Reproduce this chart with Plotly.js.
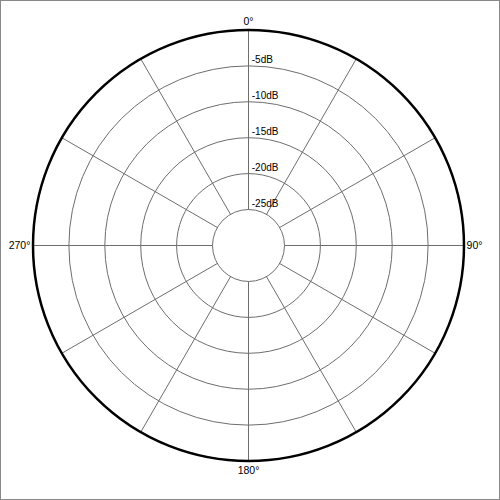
<!DOCTYPE html>
<html>
<head>
<meta charset="utf-8">
<script src="https://cdn.plot.ly/plotly-3.0.1.min.js"></script>
<style>
  html, body { margin: 0; padding: 0; background: #fff; }
  #wrap { width: 500px; height: 500px; box-sizing: border-box; border: 1px solid #888; overflow: hidden; }
  #chart { width: 498px; height: 498px; }
</style>
</head>
<body>
<div id="wrap"><div id="chart"></div></div>
<script>
// Angular grid (degrees) and labels
const angleTicks = [0, 30, 60, 90, 120, 150, 180, 210, 240, 270, 300, 330];
const angleLabels = ['0°', '', '', '90°', '', '', '180°', '', '', '270°', '', ''];
// Radial rings (dB)
const radialTicks = [-25, -20, -15, -10, -5];
const radialLabels = ['-25dB', '-20dB', '-15dB', '-10dB', '-5dB'];
const radialRange = [-25, 0];
// No data series in the reference (empty polar grid)
const seriesR = [];
const seriesTheta = [];

const data = [
  { type: 'scatterpolar', subplot: 'polar', r: seriesR, theta: seriesTheta, mode: 'lines', showlegend: false, hoverinfo: 'skip' },
  { type: 'scatterpolar', subplot: 'polar2', r: seriesR, theta: seriesTheta, mode: 'lines', showlegend: false, hoverinfo: 'skip' }
];

const gridCol = '#6e6e6e';

const layout = {
  width: 498,
  height: 498,
  margin: { l: 32, r: 35, t: 29, b: 38 },
  paper_bgcolor: '#ffffff',
  showlegend: false,
  font: { family: 'Liberation Sans, Arial, sans-serif', size: 10, color: '#000' },
  polar: {
    domain: { x: [0, 1], y: [0, 1] },
    bgcolor: '#ffffff',
    hole: 0.167,
    angularaxis: {
      rotation: 90,
      direction: 'clockwise',
      tickmode: 'array',
      tickvals: angleTicks,
      ticktext: angleLabels,
      ticks: '',
      showline: true,
      linecolor: gridCol,
      linewidth: 1,
      showgrid: true,
      gridcolor: gridCol,
      gridwidth: 1,
      tickfont: { size: 10.5, color: '#000' }
    },
    radialaxis: {
      range: radialRange,
      angle: 90,
      tickmode: 'array',
      tickvals: radialTicks,
      ticktext: radialLabels.map(s => '<span style="font-size:10px">\u00a0' + s + '</span><br>\u00a0'),
      ticks: '',
      showline: false,
      showgrid: true,
      gridcolor: gridCol,
      gridwidth: 1,
      tickangle: 90,
      tickfont: { size: 7.5, color: '#000' }
    }
  },
  polar2: {
    domain: { x: [0, 1], y: [0, 1] },
    bgcolor: 'rgba(0,0,0,0)',
    angularaxis: {
      rotation: 90,
      direction: 'clockwise',
      showticklabels: false,
      ticks: '',
      showgrid: false,
      showline: true,
      linecolor: '#000',
      linewidth: 2.5
    },
    radialaxis: {
      range: radialRange,
      visible: false,
      showgrid: false,
      showline: false,
      showticklabels: false
    }
  }
};

Plotly.newPlot('chart', data, layout, { staticPlot: true, displayModeBar: false });
</script>
</body>
</html>
